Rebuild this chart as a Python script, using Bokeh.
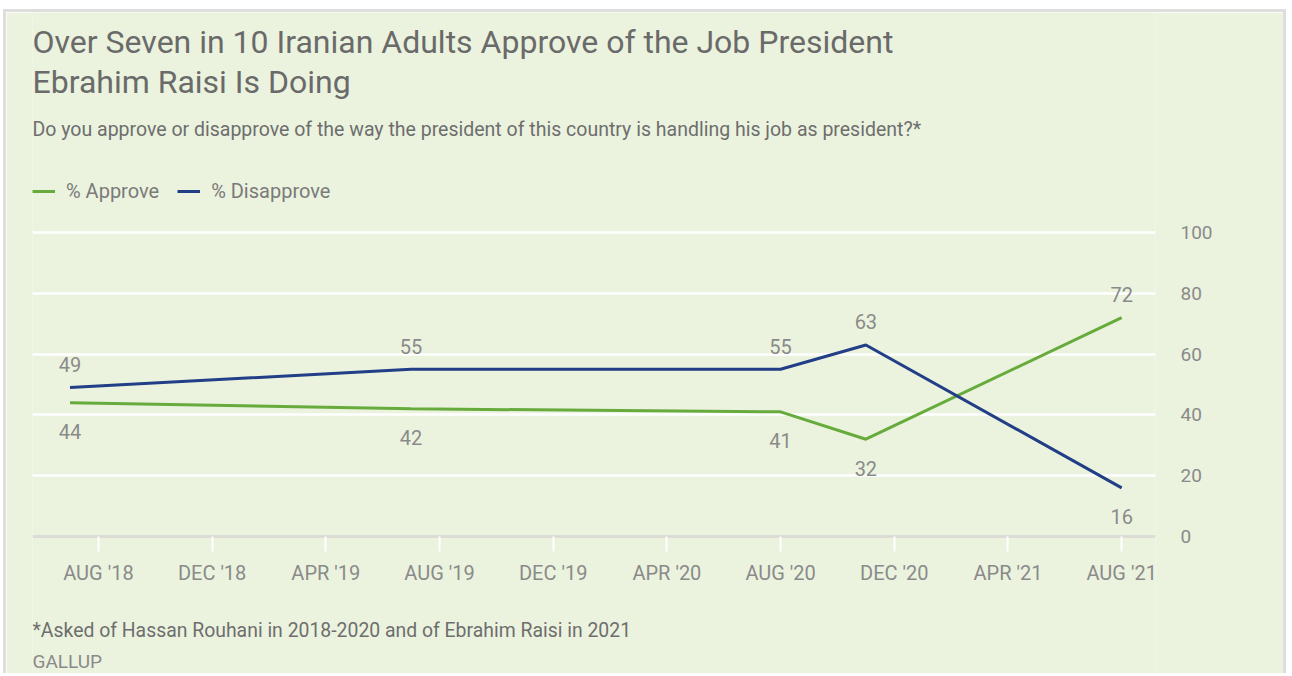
from bokeh.plotting import figure
from bokeh.models import Range1d, FixedTicker, Label
from bokeh.embed import file_html
from bokeh.resources import INLINE
from bokeh.core.properties import value

# ---- data ----
survey_dates = ["2018-07", "2019-07", "2020-08", "2020-11", "2021-08"]
approve = [44, 42, 41, 32, 72]
disapprove = [49, 55, 55, 63, 16]
tick_months = ["2018-08", "2018-12", "2019-04", "2019-08", "2019-12",
               "2020-04", "2020-08", "2020-12", "2021-04", "2021-08"]
tick_labels = ["AUG '18", "DEC '18", "APR '19", "AUG '19", "DEC '19",
               "APR '20", "AUG '20", "DEC '20", "APR '21", "AUG '21"]
y_ticks = [0, 20, 40, 60, 80, 100]

title1 = "Over Seven in 10 Iranian Adults Approve of the Job President"
title2 = "Ebrahim Raisi Is Doing"
subtitle = "Do you approve or disapprove of the way the president of this country is handling his job as president?*"
footnote = "*Asked of Hassan Rouhani in 2018-2020 and of Ebrahim Raisi in 2021"
source = "GALLUP"

def month_index(s):
    y, m = s.split("-")
    return (int(y) - 2018) * 12 + int(m) - 1

xs = [month_index(d) for d in survey_dates]
tx = [month_index(d) for d in tick_months]

BG = "#ebf3de"
GREEN = "#66ab3c"
BLUE = "#213e86"
GRAY = "#8a8a8a"
FONT = "Roboto"

W, H = 1283, 664
p = figure(width=W, height=H, output_backend="svg", toolbar_location=None,
           x_range=Range1d(4.68, 44.19), y_range=Range1d(-46.05, 172.37),
           min_border_left=26, min_border_right=134, min_border_top=0,
           min_border_bottom=0, y_axis_location="right")
p.background_fill_color = BG
p.border_fill_color = BG
p.outline_line_color = None
p.styles = {"margin": "9px 0 0 3px", "border": "3px solid #dedede",
            "border-bottom": "none"}

# grid
p.xgrid.grid_line_color = None
p.ygrid.ticker = FixedTicker(ticks=[20, 40, 60, 80, 100])
p.ygrid.grid_line_color = "white"
p.ygrid.grid_line_width = 2.5

# x axis, fixed at the zero line
xa = p.xaxis[0]
xa.fixed_location = 0
xa.ticker = FixedTicker(ticks=tx)
xa.major_label_overrides = {t: l for t, l in zip(tx, tick_labels)}
xa.axis_line_color = "#dcdcd6"
xa.axis_line_width = 3
xa.major_tick_line_color = "white"
xa.major_tick_line_width = 2
xa.major_tick_out = 15
xa.major_tick_in = 0
xa.minor_tick_line_color = None
xa.major_label_text_color = GRAY
xa.major_label_text_font = FONT
xa.major_label_text_font_size = "20px"
xa.major_label_standoff = 9

# y axis (right)
ya = p.yaxis[0]
ya.ticker = FixedTicker(ticks=y_ticks)
ya.axis_line_color = None
ya.major_tick_line_color = None
ya.minor_tick_line_color = None
ya.major_label_text_color = GRAY
ya.major_label_text_font = FONT
ya.major_label_text_font_size = "19px"
ya.major_label_standoff = 19

# lines
p.line(xs, approve, line_color=GREEN, line_width=3, legend_label="% Approve")
p.line(xs, disapprove, line_color=BLUE, line_width=3, legend_label="% Disapprove")

# data labels: higher series above, lower below
for series, other in ((approve, disapprove), (disapprove, approve)):
    offs = [-23 if a > b else 29 for a, b in zip(series, other)]
    p.text(xs, series, text=[str(v) for v in series], y_offset=offs,
           text_align="center", text_baseline="middle",
           text_color=GRAY, text_font=value(FONT), text_font_size="20px")

leg = p.legend[0]
leg.location = (0, 676 - 203)
leg.orientation = "horizontal"
leg.background_fill_alpha = 0
leg.border_line_color = None
leg.padding = 0
leg.margin = 0
leg.spacing = 18
leg.glyph_width = 23
leg.glyph_height = 20
leg.label_standoff = 11
leg.label_text_font = FONT
leg.label_text_font_size = "20px"
leg.label_text_color = "#7a7a7a"

# texts in screen units relative to the frame's bottom-left
def add_label(txt, page_x, page_y, size, color):
    p.add_layout(Label(x=page_x - 32, y=676 - page_y, x_units="screen", y_units="screen",
                       text=txt, text_font=FONT, text_font_size=size, text_color=color,
                       text_baseline="alphabetic", text_align="left"))

add_label(title1, 32, 41, "32px", "#6a6a6a")
add_label(title2, 32, 81, "32px", "#6a6a6a")
add_label(subtitle, 32, 129, "19.5px", "#6e6e6e")
add_label(footnote, 32, 630, "19.4px", "#6e6e6e")
add_label(source, 32, 661, "19px", "#8a8a8a")

open("out.html", "w").write(file_html(p, INLINE))
